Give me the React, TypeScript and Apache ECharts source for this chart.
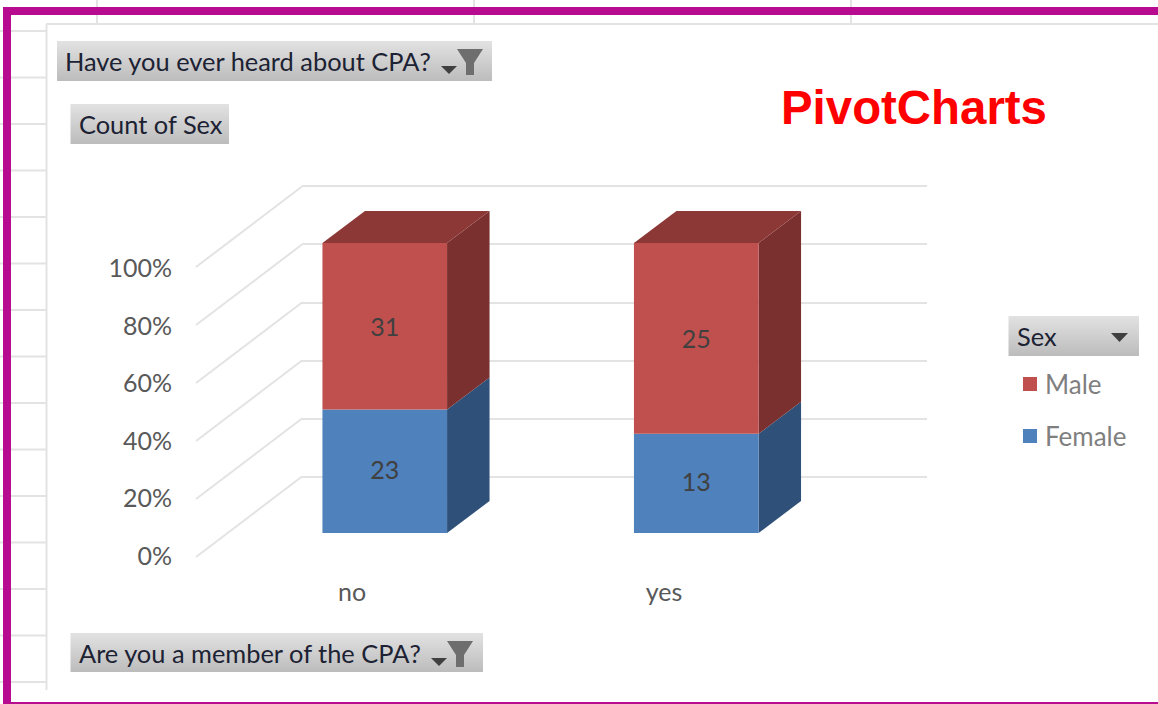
import React, { useEffect, useRef } from "react";
import * as echarts from "echarts";

const categories = ["no", "yes"];
const maleCounts = [31, 25];
const femaleCounts = [23, 13];
const percentTicks = [0, 20, 40, 60, 80, 100];
const sheetRows = [31, 77.5, 124, 170.5, 217, 263.5, 310, 356.5, 403, 449.5, 496, 542.5, 589, 635.5, 682];
const sheetCols = [97, 474, 851];

const FONT = "Lato";
const GRID = "#e3e3e3";
const MAGENTA = "#b70b90";
const DEPTH_X = 42.5;
const DEPTH_Y = -32;

const femaleRows = categories.map((_, i) => {
  const total = maleCounts[i] + femaleCounts[i];
  return [i, 0, (femaleCounts[i] / total) * 100, femaleCounts[i]];
});
const maleRows = categories.map((_, i) => {
  const total = maleCounts[i] + femaleCounts[i];
  return [i, (femaleCounts[i] / total) * 100, 100, maleCounts[i]];
});

function barRenderer(front: string, side: string, top: string | null, labelShift: number) {
  return (params: any, api: any) => {
    const cat = api.value(0);
    const low = api.coord([cat, api.value(1)]);
    const high = api.coord([cat, api.value(2)]);
    const width = api.size([1, 0])[0] * 0.4;
    const x0 = low[0] - width / 2;
    const x1 = low[0] + width / 2;
    const children: any[] = [
      {
        type: "polygon",
        shape: { points: [[x1, low[1]], [x1 + DEPTH_X, low[1] + DEPTH_Y], [x1 + DEPTH_X, high[1] + DEPTH_Y], [x1, high[1]]] },
        style: { fill: side },
      },
      {
        type: "rect",
        shape: { x: x0, y: high[1], width: x1 - x0, height: low[1] - high[1] },
        style: { fill: front },
      },
      {
        type: "text",
        x: low[0],
        y: (low[1] + high[1]) / 2 + labelShift,
        style: {
          text: String(api.value(3)),
          fill: "#404040",
          font: `25px ${FONT}`,
          align: "center",
          verticalAlign: "middle",
        },
      },
    ];
    if (top) {
      children.push({
        type: "polygon",
        shape: { points: [[x0, high[1]], [x0 + DEPTH_X, high[1] + DEPTH_Y], [x1 + DEPTH_X, high[1] + DEPTH_Y], [x1, high[1]]] },
        style: { fill: top },
      });
    }
    return { type: "group", children };
  };
}

function button(x: number, y: number, w: number, h: number, label: string, size: number, textX: number) {
  return [
    {
      type: "rect",
      shape: { x, y, width: w, height: h },
      style: {
        fill: new echarts.graphic.LinearGradient(0, 0, 0, 1, [
          { offset: 0, color: "#e2e2e2" },
          { offset: 1, color: "#bcbcbc" },
        ]),
      },
    },
    {
      type: "text",
      x: textX,
      y: y + h / 2,
      style: { text: label, fill: "#1c2233", font: `${size}px ${FONT}`, verticalAlign: "middle" },
    },
  ];
}

function funnel(x: number, y: number) {
  return [
    {
      type: "polygon",
      shape: { points: [[x, y], [x + 26, y], [x + 17, y + 14], [x + 17, y + 26], [x + 9, y + 26], [x + 9, y + 14]] },
      style: { fill: "#6e6e6e" },
    },
    {
      type: "polygon",
      shape: { points: [[x - 16, y + 17], [x, y + 17], [x - 8, y + 25]] },
      style: { fill: "#404040" },
    },
  ];
}

export default function App() {
  const ref = useRef<HTMLDivElement>(null);

  useEffect(() => {
    const chart = echarts.init(ref.current!, null, { renderer: "svg" });
    const sheet: any[] = [
      ...sheetRows.map((y) => ({
        type: "line",
        shape: { x1: 0, y1: y, x2: 46, y2: y },
        style: { stroke: GRID, lineWidth: 2 },
      })),
      ...sheetCols.map((x) => ({
        type: "line",
        shape: { x1: x, y1: 0, x2: x, y2: 24 },
        style: { stroke: GRID, lineWidth: 2 },
      })),
      { type: "line", shape: { x1: 46, y1: 24, x2: 1158, y2: 24 }, style: { stroke: GRID, lineWidth: 2 } },
      { type: "line", shape: { x1: 46.5, y1: 24, x2: 46.5, y2: 690 }, style: { stroke: GRID, lineWidth: 2 } },
      { type: "rect", shape: { x: 3, y: 7, width: 1155, height: 8 }, style: { fill: MAGENTA } },
      { type: "rect", shape: { x: 3, y: 7, width: 8, height: 697 }, style: { fill: MAGENTA } },
      { type: "rect", shape: { x: 3, y: 702, width: 1155, height: 2 }, style: { fill: MAGENTA } },
      ...button(57, 41, 435, 40, "Have you ever heard about CPA?", 25.4, 65),
      ...funnel(457, 49),
      ...button(70.5, 104, 158.5, 40, "Count of Sex", 25.4, 79),
      ...button(70.5, 633, 412.5, 39, "Are you a member of the CPA?", 25.4, 79),
      ...funnel(447, 641),
      ...button(1008.5, 316, 130.5, 40, "Sex", 25.4, 1017),
      {
        type: "polygon",
        shape: { points: [[1111, 333], [1128, 333], [1119.5, 342]] },
        style: { fill: "#404040" },
      },
      {
        type: "text",
        x: 781,
        y: 107,
        style: { text: "PivotCharts", fill: "#ff0000", font: "bold 47.4px 'Liberation Sans'", verticalAlign: "middle" },
      },
    ];

    chart.setOption({
      animation: false,
      backgroundColor: "#ffffff",
      graphic: { elements: sheet },
      legend: {
        data: ["Male", "Female"],
        orient: "vertical",
        left: 1023,
        top: 371,
        padding: 0,
        icon: "rect",
        itemWidth: 14,
        itemHeight: 14,
        itemGap: 26,
        selectedMode: false,
        textStyle: { fontFamily: FONT, fontSize: 26, color: "#7f7f7f", padding: [0, 0, 0, 3] },
      },
      grid: [
        { left: 196, width: 624, top: 267, height: 288 },
        { left: 229, width: 623, top: 243, height: 290 },
        { left: 302, width: 625, top: 186, height: 291 },
      ],
      xAxis: [
        {
          gridIndex: 0,
          type: "category",
          data: categories,
          axisLine: { show: false },
          axisTick: { show: false },
          axisLabel: { color: "#595959", fontFamily: FONT, fontSize: 25, margin: 23 },
        },
        { gridIndex: 1, type: "category", data: categories, show: false },
        { gridIndex: 2, type: "value", min: 0, max: 1, show: false },
      ],
      yAxis: [
        {
          gridIndex: 0,
          type: "value",
          min: 0,
          max: 100,
          interval: 20,
          splitLine: { show: false },
          axisLine: { show: false },
          axisTick: { show: false },
          axisLabel: {
            formatter: "{value}%",
            color: "#595959",
            fontFamily: FONT,
            fontSize: 25,
            margin: 24,
          },
        },
        { gridIndex: 1, type: "value", min: 0, max: 100, interval: 20, show: false },
        {
          gridIndex: 2,
          type: "value",
          min: 0,
          max: 100,
          interval: 20,
          axisLine: { show: false },
          axisTick: { show: false },
          axisLabel: { show: false },
          splitLine: { show: true, lineStyle: { color: GRID, width: 2 } },
        },
      ],
      series: [
        {
          type: "custom",
          name: "Walls",
          silent: true,
          xAxisIndex: 1,
          yAxisIndex: 1,
          data: percentTicks.map((v) => [0, v]),
          encode: { x: 0, y: 1 },
          clip: false,
          renderItem: (params: any, api: any) => {
            const y = api.coord([0, api.value(1)])[1] + 24;
            const x = params.coordSys.x - 33;
            return {
              type: "line",
              shape: { x1: x, y1: y, x2: x + 106, y2: y - 80.5 },
              style: { stroke: GRID, lineWidth: 2 },
            };
          },
        },
        {
          type: "custom",
          name: "Female",
          xAxisIndex: 1,
          yAxisIndex: 1,
          itemStyle: { color: "#4f81bd" },
          data: femaleRows,
          encode: { x: 0, y: [1, 2] },
          clip: false,
          renderItem: barRenderer("#4f81bd", "#2f5179", null, -2),
        },
        {
          type: "custom",
          name: "Male",
          xAxisIndex: 1,
          yAxisIndex: 1,
          itemStyle: { color: "#c0504d" },
          data: maleRows,
          encode: { x: 0, y: [1, 2] },
          clip: false,
          renderItem: barRenderer("#c0504d", "#7a302e", "#8c3836", -0.5),
        },
      ],
    });
    return () => chart.dispose();
  }, []);

  return <div ref={ref} style={{ position: "fixed", left: 0, top: 0, width: 1158, height: 704 }} />;
}
